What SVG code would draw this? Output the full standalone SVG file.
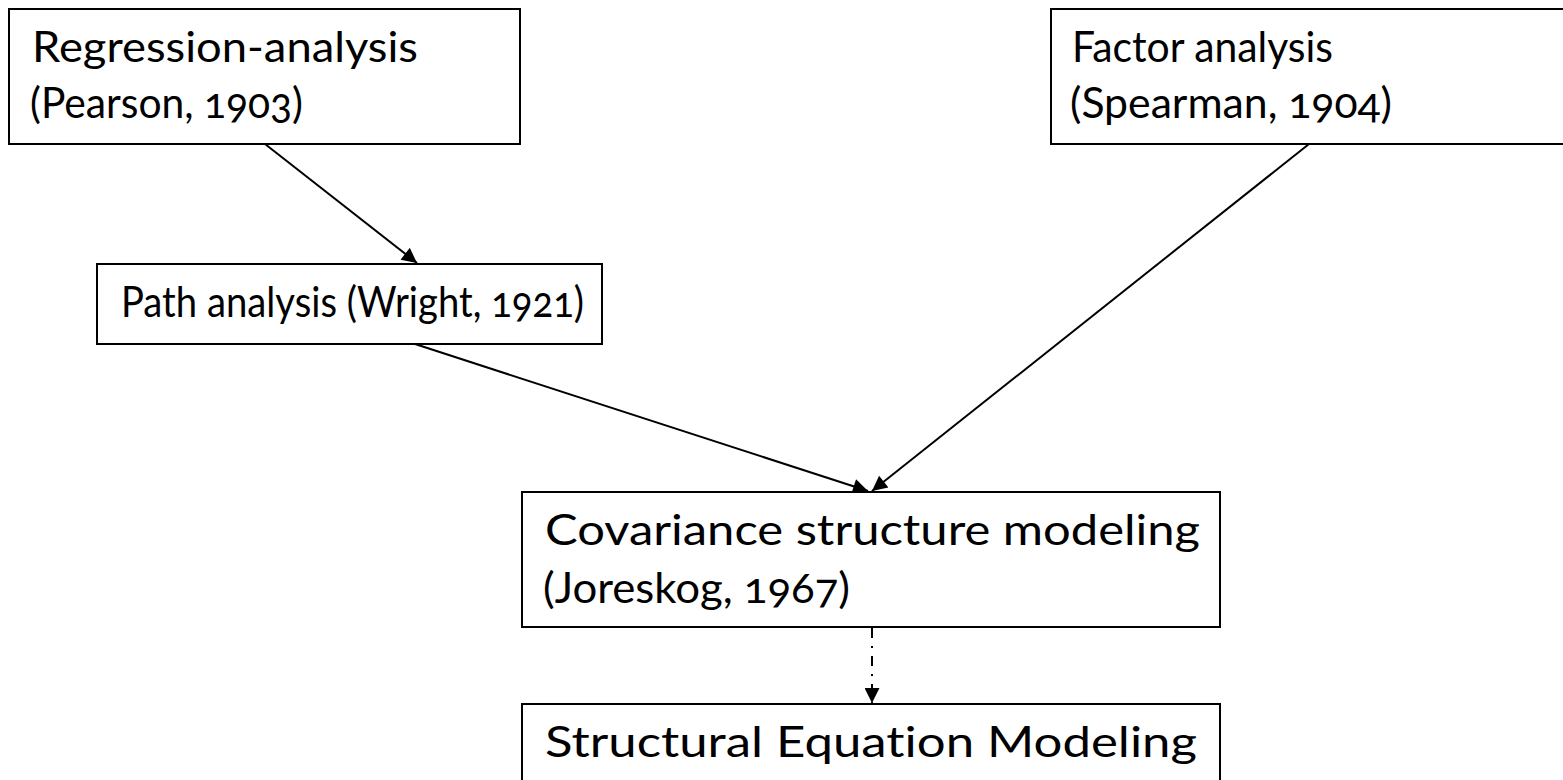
<svg xmlns="http://www.w3.org/2000/svg" width="1563" height="780" viewBox="0 0 1563 780">
  <style>
    .box { fill: #ffffff; stroke: #000000; stroke-width: 2; }
    .label { font-family: Lato, "Open Sans", "Liberation Sans", sans-serif; font-size: 42px; fill: #000000; font-variant-numeric: oldstyle-nums; font-variant-ligatures: none; font-feature-settings: "liga" 0, "onum" 1; }
    .edge { stroke: #000000; stroke-width: 2; fill: none; marker-end: url(#arrow); }
    .dashdot { stroke-dasharray: 10 8 2 8; }
  </style>
  <defs>
    <marker id="arrow" viewBox="0 0 10 10" refX="10" refY="5" markerUnits="userSpaceOnUse" markerWidth="17" markerHeight="15" orient="auto">
      <path d="M0,0 L10,5 L0,10 Z" fill="#000000"/>
    </marker>
  </defs>
  <rect width="1563" height="780" fill="#ffffff"/>

  <g id="connectors">
    <line class="edge" x1="265" y1="144" x2="417" y2="263"/>
    <line class="edge" x1="415" y1="344" x2="868" y2="491"/>
    <line class="edge" x1="1309" y1="144" x2="872" y2="491"/>
    <line class="edge dashdot" x1="872" y1="628" x2="872" y2="703"/>
  </g>

  <g id="regression">
    <rect class="box" x="9" y="9" width="511" height="135"/>
    <text class="label" x="32" y="62" textLength="386" lengthAdjust="spacingAndGlyphs">Regression-analysis</text>
    <text class="label" x="30" y="118" textLength="273" lengthAdjust="spacingAndGlyphs">(Pearson, 1903)</text>
  </g>

  <g id="factor">
    <rect class="box" x="1051" y="9" width="530" height="135"/>
    <text class="label" x="1072" y="62" textLength="261" lengthAdjust="spacingAndGlyphs">Factor analysis</text>
    <text class="label" x="1070" y="118" textLength="322" lengthAdjust="spacingAndGlyphs">(Spearman, 1904)</text>
  </g>

  <g id="path">
    <rect class="box" x="97" y="264" width="505" height="80"/>
    <text class="label" x="121" y="317" textLength="463" lengthAdjust="spacingAndGlyphs">Path analysis (Wright, 1921)</text>
  </g>

  <g id="covariance">
    <rect class="box" x="522" y="492" width="698" height="135"/>
    <text class="label" x="545" y="545" textLength="655" lengthAdjust="spacingAndGlyphs">Covariance structure modeling</text>
    <text class="label" x="543" y="603" textLength="307" lengthAdjust="spacingAndGlyphs">(Joreskog, 1967)</text>
  </g>

  <g id="sem">
    <rect class="box" x="522" y="704" width="698" height="100"/>
    <text class="label" x="545" y="757" textLength="652" lengthAdjust="spacingAndGlyphs">Structural Equation Modeling</text>
  </g>
</svg>
